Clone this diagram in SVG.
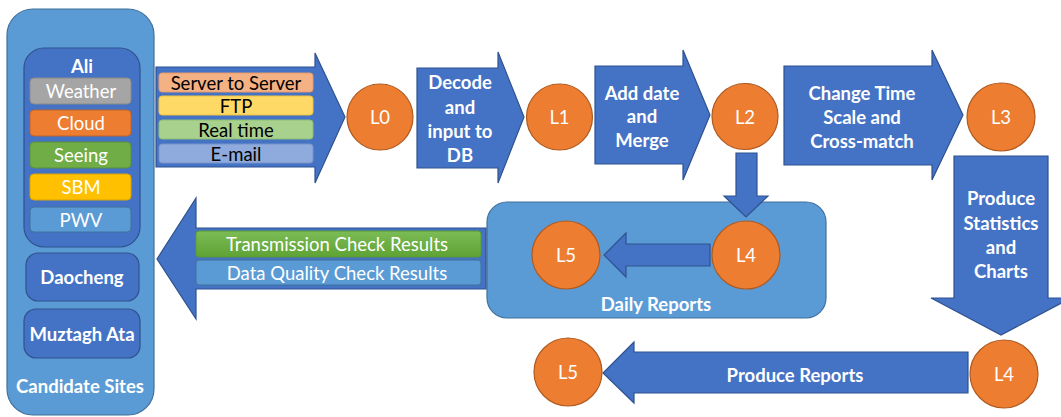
<svg xmlns="http://www.w3.org/2000/svg" width="1061" height="417" viewBox="0 0 1061 417">
<style>
.arrow{fill:#4472C4;stroke:#2F528F;stroke-width:1.2}
.circ{fill:#ED7D31;stroke:#AE5A21;stroke-width:1.2}
.group{fill:#5B9BD5;stroke:#41719C;stroke-width:1.2}
.site{fill:#4472C4;stroke:#2F528F;stroke-width:1.2}
.tag{stroke-width:1}
.w{fill:#fff;font-family:Lato,"Open Sans",sans-serif;text-anchor:middle;dominant-baseline:central}
.b{font-weight:bold;font-size:18.5px}
.r{font-size:18.5px}
.k{fill:#000;font-family:Lato,"Open Sans",sans-serif;text-anchor:middle;dominant-baseline:central;font-size:18.5px}
.lv{font-size:18.5px}
</style>
<defs>
<linearGradient id="gGreen" x1="0" y1="0" x2="0" y2="1"><stop offset="0" stop-color="#7BBC55"/><stop offset="1" stop-color="#5FA234"/></linearGradient>
</defs>

<g id="candidate-sites">
<rect class="group" x="7" y="9" width="147" height="406" rx="26"/>
<text class="w b" x="80" y="386">Candidate Sites</text>
</g>
<g id="ali">
<rect class="site" x="24" y="48" width="116" height="199" rx="20"/>
<text class="w b" x="82" y="66">Ali</text>
<rect class="tag" x="30" y="78" width="101" height="26" rx="4" fill="#A5A5A5" stroke="#8A8A8A"/>
<text class="w r" x="81" y="91">Weather</text>
<rect class="tag" x="30" y="110" width="101" height="26" rx="4" fill="#ED7D31" stroke="#C0622A"/>
<text class="w r" x="81" y="123">Cloud</text>
<rect class="tag" x="30" y="142" width="101" height="26" rx="4" fill="#70AD47" stroke="#5A8F3A"/>
<text class="w r" x="81" y="155">Seeing</text>
<rect class="tag" x="30" y="174" width="101" height="26" rx="4" fill="#FFC000" stroke="#D9A300"/>
<text class="w r" x="81" y="187">SBM</text>
<rect class="tag" x="30" y="207" width="101" height="25" rx="4" fill="#5B9BD5" stroke="#41719C"/>
<text class="w r" x="81" y="219.5">PWV</text>
</g>
<g id="daocheng">
<rect class="site" x="26" y="253" width="113" height="48" rx="12"/>
<text class="w b" x="82" y="277">Daocheng</text>
</g>
<g id="muztagh-ata">
<rect class="site" x="24" y="309" width="116" height="49" rx="12"/>
<text class="w b" x="82" y="334">Muztagh Ata</text>
</g>

<g id="daily-reports">
<rect class="group" x="487" y="202" width="339" height="116" rx="20"/>
<text class="w b" x="656" y="304">Daily Reports</text>
</g>

<g id="connectors">
<g id="transmission-arrow">
<polygon class="arrow" points="156,67 315,67 315,53 345,117 315,183 315,167 156,167"/>
<rect x="159" y="73" width="154" height="19" rx="3" fill="#F4B183" stroke="#E59A6A"/>
<text class="k" x="236" y="82.5">Server to Server</text>
<rect x="159" y="96" width="154" height="19" rx="3" fill="#FFD966" stroke="#F0C040"/>
<text class="k" x="236" y="105.5">FTP</text>
<rect x="159" y="120" width="154" height="19" rx="3" fill="#A9D18E" stroke="#8DBE6E"/>
<text class="k" x="236" y="129.5">Real time</text>
<rect x="159" y="144" width="154" height="19" rx="3" fill="#8FAADC" stroke="#7993C8"/>
<text class="k" x="236" y="153.5">E-mail</text>
</g>
<g id="decode-arrow">
<polygon class="arrow" points="417,68 498,68 498,52 524,117 498,183 498,168 417,168"/>
<text class="w b" x="460" y="82">Decode</text>
<text class="w b" x="460" y="107">and</text>
<text class="w b" x="460" y="131">input to</text>
<text class="w b" x="460" y="155">DB</text>
</g>
<g id="merge-arrow">
<polygon class="arrow" points="595,66 683,66 683,50 710,115 683,180 683,164 595,164"/>
<text class="w b" x="642" y="93">Add date</text>
<text class="w b" x="642" y="116">and</text>
<text class="w b" x="642" y="140">Merge</text>
</g>
<g id="l2-down-arrow">
<polygon class="arrow" points="736,153 757,153 757,196 768,196 746,217 724,196 736,196"/>
</g>
<g id="timescale-arrow">
<polygon class="arrow" points="784,66 932,66 932,50 963,115 932,180 932,165 784,165"/>
<text class="w b" x="862" y="93">Change Time</text>
<text class="w b" x="862" y="117">Scale and</text>
<text class="w b" x="862" y="141">Cross-match</text>
</g>
<g id="statistics-arrow">
<polygon class="arrow" points="954,156 1048,156 1048,298 1071,298 1001,335 931,298 954,298"/>
<text class="w b" x="1001" y="198">Produce</text>
<text class="w b" x="1001" y="223">Statistics</text>
<text class="w b" x="1001" y="247">and</text>
<text class="w b" x="1001" y="271">Charts</text>
</g>
<g id="reports-arrow">
<polygon class="arrow" points="968,352 968,393 634,393 634,403 603,373 634,342 634,352"/>
<text class="w b" x="795" y="375">Produce Reports</text>
</g>
<g id="results-arrow">
<polygon class="arrow" points="486,228 486,289 196,289 196,319 157,259 196,198 196,228"/>
<rect x="196" y="231" width="285" height="26" rx="3" fill="url(#gGreen)" stroke="#5A9A35"/>
<text class="w r" x="337" y="244">Transmission Check Results</text>
<rect x="196" y="260" width="285" height="25" rx="3" fill="#5B9BD5" stroke="#41719C"/>
<text class="w r" x="337" y="272.5">Data Quality Check Results</text>
</g>
<g id="daily-arrow">
<polygon class="arrow" points="710,244 710,266 626,266 626,277 604,255 626,233 626,244"/>
</g>
</g>

<g id="L0"><circle class="circ" cx="380" cy="117" r="33"/><text class="w lv" x="380" y="117">L0</text></g>
<g id="L1"><circle class="circ" cx="559.5" cy="117" r="33"/><text class="w lv" x="559.5" y="117">L1</text></g>
<g id="L2"><circle class="circ" cx="745" cy="116.5" r="33"/><text class="w lv" x="745" y="116.5">L2</text></g>
<g id="L3"><circle class="circ" cx="1001" cy="117" r="34"/><text class="w lv" x="1001" y="117">L3</text></g>
<g id="L4-daily"><circle class="circ" cx="746" cy="255" r="34"/><text class="w lv" x="746" y="255">L4</text></g>
<g id="L5-daily"><circle class="circ" cx="566" cy="255" r="34"/><text class="w lv" x="566" y="255">L5</text></g>
<g id="L4"><circle class="circ" cx="1004" cy="374" r="34"/><text class="w lv" x="1004" y="374">L4</text></g>
<g id="L5"><circle class="circ" cx="568" cy="372" r="34"/><text class="w lv" x="568" y="372">L5</text></g>
</svg>
